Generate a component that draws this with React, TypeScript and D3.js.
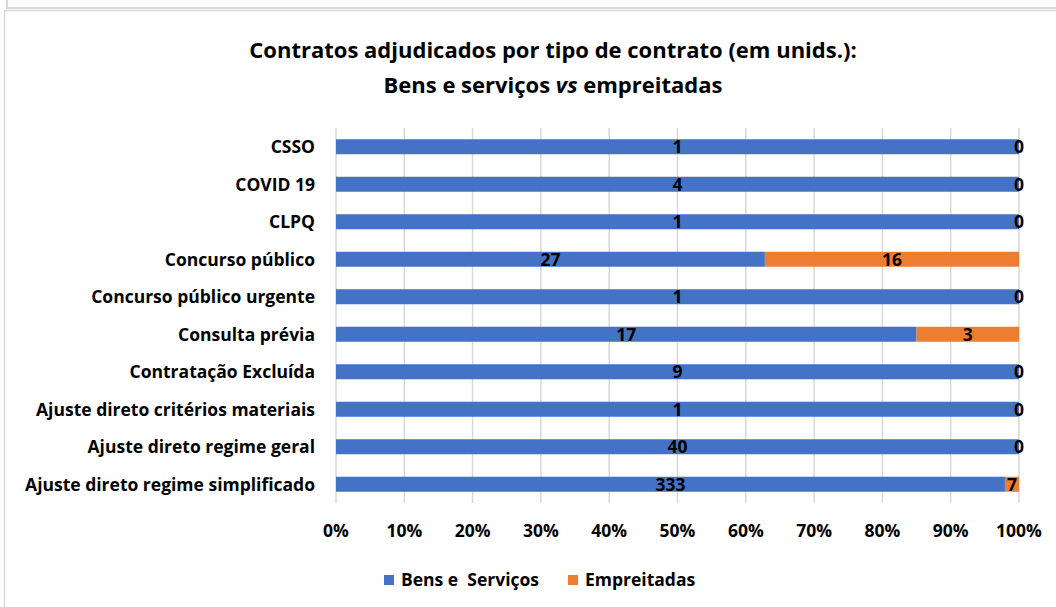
import React, { useEffect, useRef } from 'react'
import * as d3 from 'd3'

const categories = [
  'CSSO',
  'COVID 19',
  'CLPQ',
  'Concurso público',
  'Concurso público urgente',
  'Consulta prévia',
  'Contratação Excluída',
  'Ajuste direto critérios materiais',
  'Ajuste direto regime geral',
  'Ajuste direto regime simplificado',
]
const bensServicos = [1, 4, 1, 27, 1, 17, 9, 1, 40, 333]
const empreitadas = [0, 0, 0, 16, 0, 3, 0, 0, 0, 7]
const seriesNames = ['Bens e  Serviços', 'Empreitadas']
const seriesColors = ['#4472C4', '#ED7D31']
const tickValues = [0, 0.1, 0.2, 0.3, 0.4, 0.5, 0.6, 0.7, 0.8, 0.9, 1]

const W = 1056
const H = 607
const FONT = '"Open Sans", Lato, sans-serif'
const FS = 17.5

export default function App() {
  const ref = useRef<SVGSVGElement>(null)

  useEffect(() => {
    const svg = d3.select(ref.current)
    svg.selectAll('*').remove()

    // frames
    svg.append('path')
      .attr('d', `M7,0 V8 H${W}`)
      .attr('fill', 'none').attr('stroke', '#d9d9d9').attr('stroke-width', 2)
    svg.append('path')
      .attr('d', `M4.5,${H} V10.5 H${W}`)
      .attr('fill', 'none').attr('stroke', '#d9d9d9').attr('stroke-width', 1.5)

    // title
    const title = svg.append('text')
      .attr('text-anchor', 'middle')
      .attr('font-family', FONT).attr('font-weight', 'bold').attr('font-size', 22)
      .attr('fill', '#000')
    title.append('tspan').attr('x', 553).attr('y', 58)
      .text('Contratos adjudicados por tipo de contrato (em unids.):')
    const l2 = title.append('tspan').attr('x', 553).attr('y', 93)
    l2.append('tspan').text('Bens e serviços ')
    l2.append('tspan').attr('font-style', 'italic').text('vs')
    l2.append('tspan').text(' empreitadas')

    const x = d3.scaleLinear().domain([0, 1]).range([336, 1019])
    const y = d3.scaleBand<string>().domain(categories).range([128, 503]).paddingInner(0.6).paddingOuter(0.3)

    // grid
    svg.append('g').selectAll('line').data(tickValues).join('line')
      .attr('x1', d => x(d)).attr('x2', d => x(d))
      .attr('y1', 128).attr('y2', 503)
      .attr('stroke', '#d9d9d9').attr('stroke-width', 1.5)

    const rows = categories.map((c, i) => {
      const total = bensServicos[i] + empreitadas[i]
      return { c, b: bensServicos[i], e: empreitadas[i], pb: bensServicos[i] / total }
    })

    const g = svg.append('g')
    g.selectAll('rect.b').data(rows).join('rect')
      .attr('x', x(0)).attr('y', d => y(d.c)!)
      .attr('width', d => x(d.pb) - x(0)).attr('height', y.bandwidth())
      .attr('fill', seriesColors[0])
    g.selectAll('rect.e').data(rows).join('rect')
      .attr('x', d => x(d.pb)).attr('y', d => y(d.c)!)
      .attr('width', d => x(1) - x(d.pb)).attr('height', y.bandwidth())
      .attr('fill', seriesColors[1])

    const lbl = svg.append('g')
      .attr('font-family', FONT).attr('font-weight', 'bold').attr('font-size', FS)
      .attr('text-anchor', 'middle').attr('fill', '#000')
    rows.forEach(d => {
      const cy = y(d.c)! + y.bandwidth() / 2
      lbl.append('text').attr('x', (x(0) + x(d.pb)) / 2).attr('y', cy).attr('dy', '0.36em').text(d.b)
      lbl.append('text').attr('x', (x(d.pb) + x(1)) / 2).attr('y', cy).attr('dy', '0.36em').text(d.e)
    })

    // category labels
    svg.append('g')
      .attr('font-family', FONT).attr('font-weight', 'bold').attr('font-size', FS)
      .attr('text-anchor', 'end').attr('fill', '#000')
      .selectAll('text').data(categories).join('text')
      .attr('x', 315).attr('y', d => y(d)! + y.bandwidth() / 2).attr('dy', '0.36em')
      .text(d => d)

    // x tick labels
    svg.append('g')
      .attr('font-family', FONT).attr('font-weight', 'bold').attr('font-size', FS)
      .attr('text-anchor', 'middle').attr('fill', '#000')
      .selectAll('text').data(tickValues).join('text')
      .attr('x', d => x(d)).attr('y', 531).attr('dy', '0.36em')
      .text(d => d3.format('.0%')(d))

    // legend
    const legendX = [384, 568]
    seriesNames.forEach((n, i) => {
      svg.append('rect').attr('x', legendX[i]).attr('y', 575).attr('width', 10).attr('height', 10)
        .attr('fill', seriesColors[i])
      svg.append('text').attr('x', legendX[i] + 17).attr('y', 580).attr('dy', '0.36em')
        .attr('font-family', FONT).attr('font-weight', 'bold').attr('font-size', FS)
        .attr('xml:space', 'preserve').style('white-space', 'pre')
        .text(n)
    })
  }, [])

  return (
    <svg ref={ref} width={W} height={H}
      style={{ position: 'absolute', left: 0, top: 0, background: '#fff' }} />
  )
}
